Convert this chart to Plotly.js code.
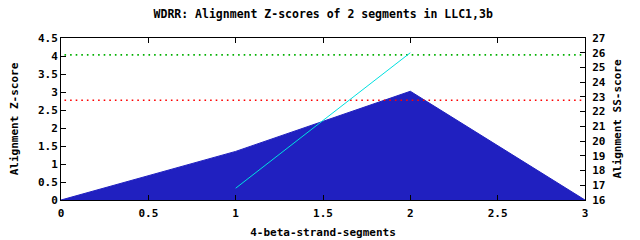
<!DOCTYPE html>
<html>
<head>
<meta charset="utf-8">
<script src="https://cdn.plot.ly/plotly-3.0.1.min.js"></script>
<style>html,body{margin:0;padding:0;background:#fff;}#chart{width:640px;height:240px;}</style>
</head>
<body>
<div id="chart"></div>
<script>
// Data
const segX = [0, 1, 2, 3];
const zScores = [0, 1.35, 3.02, 0];
const ssX = [1, 2];
const ssScores = [16.8, 26.0];
const thresholdX = [0.02, 2.99];
const greenThreshold = 4.03;
const redThreshold = 2.77;
const xTicks = [0, 0.5, 1, 1.5, 2, 2.5, 3];
const xTickLabels = ["0", "0.5", "1", "1.5", "2", "2.5", "3"];
const titleText = "WDRR: Alignment Z-scores of 2 segments in LLC1,3b";
const xTitle = "4-beta-strand-segments";
const yTitle = "Alignment Z-score";
const y2Title = "Alignment SS-score";

const FONT = "DejaVu Sans Mono";
const tf = {family: FONT, size: 11, color: "#000", weight: "bold"};

const traces = [
  {x: segX, y: zScores, type: "scatter", mode: "lines", fill: "tozeroy",
   fillcolor: "#2020c0", line: {color: "#2020c0", width: 1}, hoverinfo: "skip"},
  {x: thresholdX, y: thresholdX.map(() => greenThreshold), type: "scatter", mode: "lines",
   line: {color: "#00b000", width: 1.6, dash: "1.6px,4px"}},
  {x: thresholdX, y: thresholdX.map(() => redThreshold), type: "scatter", mode: "lines",
   line: {color: "#ff0000", width: 1.6, dash: "1.6px,4px"}},
  {x: ssX, y: ssScores, type: "scatter", mode: "lines", yaxis: "y2",
   line: {color: "#00e0e0", width: 1}}
];

const layout = {
  width: 640, height: 240,
  margin: {l: 61, r: 55, t: 38, b: 40, pad: 0},
  paper_bgcolor: "#fff", plot_bgcolor: "#fff",
  showlegend: false,
  font: tf,
  title: {text: titleText, font: {family: FONT, size: 11.5, color: "#000", weight: "bold"},
          x: 0.505, xanchor: "center", y: 0.94, yanchor: "middle"},
  xaxis: {range: [0, 3], tickvals: xTicks, ticktext: xTickLabels,
          showgrid: false, zeroline: false, showline: true, linecolor: "#000", linewidth: 1,
          mirror: "ticks", ticks: "inside", ticklen: 5, tickcolor: "#000", ticklabelstandoff: 3,
          tickfont: tf, title: {text: xTitle, font: tf, standoff: 9}},
  yaxis: {range: [0, 4.5], dtick: 0.5, showgrid: false, zeroline: false,
          showline: true, linecolor: "#000", linewidth: 1, ticks: "inside", ticklen: 5,
          tickcolor: "#000", tickfont: tf, title: {text: yTitle, font: tf, standoff: 17}},
  yaxis2: {range: [16, 27], dtick: 1, overlaying: "y", side: "right", showgrid: false,
           zeroline: false, showline: true, linecolor: "#000", linewidth: 1, ticks: "inside",
           ticklen: 5, tickcolor: "#000", tickfont: tf, ticklabelstandoff: 4,
           title: {text: y2Title, font: tf, standoff: 8}}
};

Plotly.newPlot("chart", traces, layout, {staticPlot: true, displayModeBar: false});
</script>
</body>
</html>
